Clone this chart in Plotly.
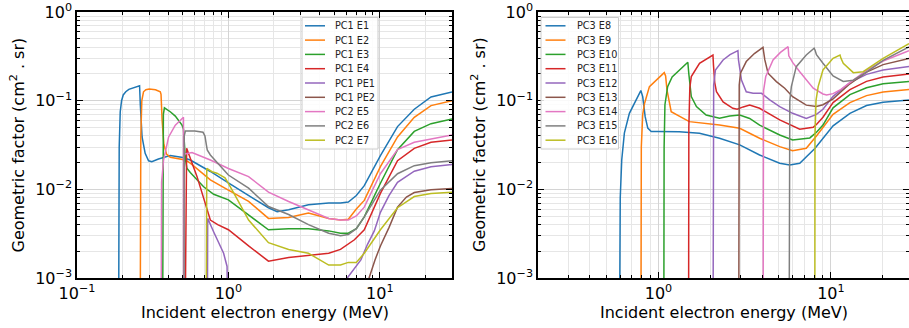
import math
import plotly.graph_objects as go

# ---------------- Left panel data (energy MeV, geometric factor cm^2 sr) -------------
pc1_e1_E = [0.188, 0.190, 0.193, 0.197, 0.202, 0.210, 0.220, 0.240, 0.259, 0.262, 0.269, 0.282, 0.297, 0.312, 0.345,
            0.413, 0.50, 0.56, 0.76, 1.0, 1.36, 1.84, 2.1, 2.5, 3.38, 4.6, 5.5, 6.2, 7.0, 7.9, 10.1, 13.1, 16.9, 21.8, 30.0]
pc1_e1_G = [1e-4, 0.03, 0.075, 0.10, 0.116, 0.126, 0.134, 0.140, 0.147, 0.09, 0.039, 0.0255, 0.021, 0.0205, 0.022,
            0.0240, 0.0228, 0.0214, 0.0159, 0.0118, 0.0086, 0.0062, 0.0056, 0.0059, 0.0067, 0.0070, 0.0070, 0.0072, 0.0085,
            0.011, 0.024, 0.051, 0.080, 0.110, 0.125]

pc1_e2_E = [0.261, 0.264, 0.268, 0.275, 0.285, 0.300, 0.330, 0.355, 0.359, 0.365, 0.375, 0.390, 0.413, 0.52, 0.56,
            0.76, 1.0, 1.36, 1.84, 2.5, 3.38, 4.6, 5.5, 6.2, 7.0, 7.9, 10.1, 13.1, 16.9, 21.8, 30.0]
pc1_e2_G = [1e-4, 0.04, 0.10, 0.126, 0.133, 0.135, 0.133, 0.126, 0.118, 0.06, 0.032, 0.025, 0.023, 0.0214, 0.0197,
            0.0128, 0.0098, 0.0073, 0.0047, 0.0048, 0.0054, 0.0047, 0.0045, 0.0046, 0.0060, 0.0075, 0.018, 0.039, 0.065,
            0.088, 0.100]

pc1_e3_E = [0.367, 0.369, 0.372, 0.378, 0.413, 0.446, 0.494, 0.505, 0.512, 0.52, 0.532, 0.56, 0.686, 0.80, 1.0, 1.36,
            1.84, 2.5, 3.38, 4.6, 5.5, 6.2, 7.0, 7.9, 10.1, 13.1, 16.9, 21.8, 30.0]
pc1_e3_G = [1e-4, 0.03, 0.07, 0.083, 0.075, 0.067, 0.053, 0.048, 0.032, 0.022, 0.0173, 0.0155, 0.0107, 0.0088, 0.0076,
            0.0052, 0.0035, 0.0036, 0.0036, 0.0034, 0.0032, 0.0032, 0.0036, 0.0049, 0.0117, 0.028, 0.045, 0.055, 0.062]

pc1_e4_E = [0.515, 0.53, 0.62, 0.72, 0.76, 0.85, 1.0, 1.36, 1.84, 2.5, 3.38, 4.6, 5.5, 6.2, 6.8, 7.9, 10.1, 13.1, 16.9,
            21.8, 30.0]
pc1_e4_G = [1e-4, 0.029, 0.014, 0.0059, 0.0045, 0.0040, 0.0035, 0.0023, 0.00155, 0.0017, 0.0018, 0.0019, 0.0021, 0.0024,
            0.0027, 0.0035, 0.009, 0.021, 0.029, 0.034, 0.036]

pc1_pe1_E = [0.725, 0.73, 0.80, 0.86, 0.93, 0.98, 1.0, None, 6.1, 7.5, 8.3, 9.2, 10.1, 11.5, 13.1, 16.9, 21.8, 30.0]
pc1_pe1_G = [1e-4, 0.0047, 0.0033, 0.0025, 0.0019, 0.00135, 1e-4, None, 0.001, 0.0016, 0.0024, 0.0034, 0.0055, 0.0085,
             0.012, 0.016, 0.018, 0.019]

pc1_pe2_E = [8.3, 8.5, 9.3, 10.1, 11.5, 13.1, 15.0, 16.9, 21.8, 30.0]
pc1_pe2_G = [1e-4, 0.001, 0.0016, 0.0023, 0.0037, 0.0063, 0.0082, 0.0092, 0.0099, 0.0102]

pc2_e5_E = [0.359, 0.362, 0.373, 0.403, 0.446, 0.48, 0.505, 0.507, None, 0.515, 0.575, 0.76, 1.0, 1.36, 1.84, 2.5,
            3.38, 4.6, 5.5, 6.2, 7.0, 7.9, 10.1, 13.1, 16.9, 21.8, 30.0]
pc2_e5_G = [1e-4, 0.012, 0.0214, 0.039, 0.053, 0.060, 0.065, 1e-4, None, 0.025, 0.026, 0.0214, 0.0172, 0.0139, 0.0093,
            0.0073, 0.0059, 0.0047, 0.0045, 0.0045, 0.0050, 0.0063, 0.015, 0.028, 0.034, 0.037, 0.041]

pc2_e6_E = [0.509, 0.511, 0.52, 0.60, 0.68, 0.70, 0.715, 0.725, 0.76, 1.0, 1.36, 1.84, 2.5, 3.38, 4.6, 5.5, 6.2, 7.0,
            7.9, 10.1, 13.1, 16.9, 21.8, 30.0]
pc2_e6_G = [1e-4, 0.04, 0.0455, 0.0455, 0.044, 0.040, 0.032, 0.0278, 0.0244, 0.0145, 0.0103, 0.0064, 0.0052, 0.0040,
            0.0032, 0.0030, 0.0031, 0.0036, 0.0049, 0.0098, 0.015, 0.0185, 0.020, 0.021]

pc2_e7_E = [0.711, 0.713, 0.72, 0.78, 0.84, 0.95, 1.0, 1.15, 1.36, 1.84, 2.5, 3.38, 4.6, 5.5, 6.2, 7.0, 7.9, 10.1, 13.1,
            16.9, 21.8, 30.0]
pc2_e7_G = [1e-4, 0.016, 0.0172, 0.0158, 0.0152, 0.0135, 0.0117, 0.0076, 0.0045, 0.0025, 0.0021, 0.0019, 0.0014, 0.0014,
            0.0015, 0.0015, 0.0019, 0.0035, 0.0062, 0.0083, 0.0090, 0.0093]

# ---------------- Right panel data -------------
pc3_e8_E = [0.593, 0.600, 0.612, 0.634, 0.678, 0.725, 0.76, 0.79, 0.81, 0.837, 0.867, 0.907, 0.99, 1.32, 1.73, 2.26,
            2.96, 3.86, 5.05, 5.77, 6.6, 8.1, 10.3, 12.9, 16.1, 20.1, 28.4]
pc3_e8_G = [1e-4, 0.008, 0.0214, 0.043, 0.072, 0.093, 0.11, 0.13, 0.111, 0.066, 0.049, 0.045, 0.045, 0.0447, 0.043,
            0.0377, 0.0317, 0.0244, 0.0197, 0.0188, 0.0197, 0.029, 0.052, 0.072, 0.088, 0.096, 0.102]

pc3_e9_E = [0.79, 0.795, 0.81, 0.83, 0.886, 0.99, 1.08, 1.10, 1.12, 1.185, 1.295, 1.42, 1.51, 2.26, 2.96, 3.86, 5.05,
            6.0, 7.2, 8.25, 10.3, 12.9, 16.1, 20.1, 28.4]
pc3_e9_G = [1e-4, 0.03, 0.07, 0.093, 0.144, 0.179, 0.207, 0.19, 0.132, 0.075, 0.069, 0.062, 0.058, 0.053, 0.0489,
            0.0377, 0.0303, 0.0273, 0.029, 0.040, 0.070, 0.095, 0.114, 0.125, 0.134]

pc3_e10_E = [1.073, 1.078, 1.09, 1.13, 1.2, 1.32, 1.48, 1.50, 1.55, 1.66, 1.89, 2.26, 2.59, 2.96, 3.38, 3.86, 5.05, 6.0,
             7.55, 8.25, 9.0, 10.3, 12.9, 16.1, 20.1, 28.4]
pc3_e10_G = [1e-4, 0.03, 0.09, 0.144, 0.185, 0.222, 0.271, 0.2, 0.111, 0.0857, 0.069, 0.0633, 0.067, 0.069, 0.063,
             0.053, 0.041, 0.036, 0.038, 0.044, 0.053, 0.083, 0.117, 0.14, 0.155, 0.165]

pc3_e11_E = [1.494, 1.50, 1.52, 1.55, 1.73, 2.07, 2.085, 2.12, 2.17, 2.37, 2.7, 2.86, 3.1, 3.38, 3.86, 5.05, 6.6, 7.9,
             8.25, 9.0, 10.3, 12.9, 16.1, 20.1, 28.4]
pc3_e11_G = [1e-4, 0.05, 0.14, 0.187, 0.264, 0.327, 0.25, 0.16, 0.126, 0.097, 0.082, 0.080, 0.085, 0.089, 0.082, 0.0606,
             0.0476, 0.050, 0.054, 0.065, 0.095, 0.133, 0.165, 0.185, 0.200]

pc3_e12_E = [2.07, 2.075, 2.09, 2.14, 2.37, 2.6, 2.89, 2.91, 3.03, 3.23, 3.54, 3.96, 4.42, 5.05, 6.0, 7.2, 8.25, 9.0,
             10.3, 12.9, 16.1, 20.1, 28.4]
pc3_e12_G = [1e-4, 0.05, 0.15, 0.222, 0.288, 0.33, 0.366, 0.29, 0.171, 0.126, 0.121, 0.121, 0.102, 0.0857, 0.072, 0.063,
             0.070, 0.080, 0.112, 0.160, 0.198, 0.222, 0.243]

pc3_e13_E = [2.92, 2.925, 2.94, 2.99, 3.23, 3.6, 4.04, 4.07, 4.14, 4.32, 4.83, 5.4, 6.0, 7.2, 8.25, 9.0, 10.3, 12.9,
             16.1, 20.1, 28.4]
pc3_e13_G = [1e-4, 0.05, 0.15, 0.204, 0.276, 0.34, 0.40, 0.36, 0.288, 0.204, 0.164, 0.138, 0.111, 0.089, 0.086, 0.090,
             0.105, 0.155, 0.21, 0.255, 0.30]

pc3_e14_E = [4.04, 4.045, 4.07, 4.19, 4.62, 5.1, 5.65, 5.7, 6.0, 6.6, 7.9, 9.0, 9.45, 10.3, 11.3, 12.9, 16.1, 20.1, 28.4]
pc3_e14_G = [1e-4, 0.05, 0.13, 0.187, 0.288, 0.35, 0.406, 0.32, 0.27, 0.212, 0.138, 0.119, 0.116, 0.120, 0.132, 0.160,
             0.22, 0.28, 0.365]

pc3_e15_E = [5.72, 5.73, 5.78, 5.9, 6.3, 7.2, 8.0, 8.1, 8.25, 9.0, 10.3, 11.8, 13.5, 16.1, 20.1, 28.4]
pc3_e15_G = [1e-4, 0.04, 0.10, 0.144, 0.242, 0.327, 0.39, 0.37, 0.33, 0.264, 0.19, 0.165, 0.170, 0.21, 0.285, 0.405]

pc3_e16_E = [8.07, 8.09, 8.2, 8.44, 9.0, 10.3, 11.3, 11.45, 11.8, 13.5, 15.4, 20.1, 28.4]
pc3_e16_G = [1e-4, 0.04, 0.10, 0.144, 0.222, 0.30, 0.327, 0.30, 0.264, 0.207, 0.212, 0.30, 0.44]

left_names = ["PC1 E1", "PC1 E2", "PC1 E3", "PC1 E4", "PC1 PE1", "PC1 PE2", "PC2 E5", "PC2 E6", "PC2 E7"]
left_data = [(pc1_e1_E, pc1_e1_G), (pc1_e2_E, pc1_e2_G), (pc1_e3_E, pc1_e3_G), (pc1_e4_E, pc1_e4_G),
             (pc1_pe1_E, pc1_pe1_G), (pc1_pe2_E, pc1_pe2_G), (pc2_e5_E, pc2_e5_G), (pc2_e6_E, pc2_e6_G),
             (pc2_e7_E, pc2_e7_G)]
right_names = ["PC3 E8", "PC3 E9", "PC3 E10", "PC3 E11", "PC3 E12", "PC3 E13", "PC3 E14", "PC3 E15", "PC3 E16"]
right_data = [(pc3_e8_E, pc3_e8_G), (pc3_e9_E, pc3_e9_G), (pc3_e10_E, pc3_e10_G), (pc3_e11_E, pc3_e11_G),
              (pc3_e12_E, pc3_e12_G), (pc3_e13_E, pc3_e13_G), (pc3_e14_E, pc3_e14_G), (pc3_e15_E, pc3_e15_G),
              (pc3_e16_E, pc3_e16_G)]

colors = ["#1f77b4", "#ff7f0e", "#2ca02c", "#d62728", "#9467bd", "#8c564b", "#e377c2", "#7f7f7f", "#bcbd22"]

W, H = 909, 328
FONT = "DejaVu Sans"

fig = go.Figure()
for (name, (e, g), c) in zip(left_names, left_data, colors):
    fig.add_trace(go.Scatter(x=e, y=g, mode="lines", name=name, line=dict(color=c, width=1.5),
                             xaxis="x", yaxis="y", showlegend=False, connectgaps=False))
for (name, (e, g), c) in zip(right_names, right_data, colors):
    fig.add_trace(go.Scatter(x=e, y=g, mode="lines", name=name, line=dict(color=c, width=1.5),
                             xaxis="x2", yaxis="y2", showlegend=False, connectgaps=False))


def px_x(p):
    return p / W


def px_y(p):
    return 1 - p / H


def minor_vals(d0, d1):
    return [m * 10.0 ** d for d in range(d0, d1) for m in range(2, 10)]


def sup(p):
    s = ("\u2212" + str(-p)) if p < 0 else str(p)
    return "10<sup>" + s + "</sup>"


common = dict(type="log", showline=True, linecolor="black", linewidth=1.5, mirror="allticks",
              ticks="inside", ticklen=6, tickwidth=1.2, tickcolor="black", automargin=False,
              showgrid=True, gridcolor="#d4d4d4", gridwidth=1, zeroline=False,
              tickfont=dict(family=FONT, size=16, color="black"),
              minor=dict(ticks="inside", ticklen=3, tickwidth=1, tickcolor="black",
                         showgrid=True, gridcolor="#e6e6e6", gridwidth=1))

y_dom = [px_y(278), px_y(12)]
yt = [-3, -2, -1, 0]

fig.update_layout(
    width=W, height=H, margin=dict(l=0, r=0, t=0, b=0, autoexpand=False),
    paper_bgcolor="white", plot_bgcolor="white",
    font=dict(family=FONT, color="black"),
    xaxis=dict(common, domain=[px_x(77), px_x(452)], range=[-1, math.log10(30)], anchor="y",
               tickmode="array", tickvals=[10.0 ** p for p in [-1, 0, 1]], ticktext=[sup(p) for p in [-1, 0, 1]],
               minor=dict(common["minor"], tickmode="array", tickvals=minor_vals(-1, 2))),
    yaxis=dict(common, domain=y_dom, range=[-3, 0], anchor="x",
               tickmode="array", tickvals=[10.0 ** p for p in yt], ticktext=[sup(p) for p in yt],
               minor=dict(common["minor"], tickmode="array", tickvals=minor_vals(-3, 0))),
    xaxis2=dict(common, domain=[px_x(538), 1.0], range=[math.log10(0.2), math.log10(28.4)], anchor="y2",
                tickmode="array", tickvals=[1.0, 10.0], ticktext=[sup(0), sup(1)],
                minor=dict(common["minor"], tickmode="array", tickvals=minor_vals(-1, 2))),
    yaxis2=dict(common, domain=y_dom, range=[-3, 0], anchor="x2",
                tickmode="array", tickvals=[10.0 ** p for p in yt], ticktext=[sup(p) for p in yt],
                minor=dict(common["minor"], tickmode="array", tickvals=minor_vals(-3, 0))),
)

annotations = []
shapes = []
# axis titles
for cx in [(77 + 452) / 2, (538 + 909) / 2]:
    annotations.append(dict(text="Incident electron energy (MeV)", x=px_x(cx), y=px_y(312), xref="paper",
                            yref="paper", showarrow=False, xanchor="center", yanchor="middle",
                            font=dict(family=FONT, size=16, color="black")))
for cx in [17.5, 478]:
    annotations.append(dict(text="Geometric factor (cm<sup>2</sup> . sr)", x=px_x(cx), y=px_y(145), xref="paper",
                            yref="paper", showarrow=False, xanchor="center", yanchor="middle", textangle=-90,
                            font=dict(family=FONT, size=16, color="black")))

# legends (drawn as boxes with sample lines and labels)
for names, bx0, bx1, lx0, lx1, tx in [(left_names, 302, 378, 305, 325, 333),
                                       (right_names, 541, 618.5, 545.5, 565.5, 574.5)]:
    shapes.append(dict(type="rect", xref="paper", yref="paper", x0=px_x(bx0), x1=px_x(bx1), y0=px_y(149),
                       y1=px_y(17.5), fillcolor="rgba(255,255,255,0.85)", line=dict(color="#cccccc", width=1),
                       layer="above"))
    for i, (nm, c) in enumerate(zip(names, colors)):
        ry = 25.8 + 14.3 * i
        shapes.append(dict(type="line", xref="paper", yref="paper", x0=px_x(lx0), x1=px_x(lx1), y0=px_y(ry),
                           y1=px_y(ry), line=dict(color=c, width=1.5), layer="above"))
        annotations.append(dict(text=nm, x=px_x(tx), y=px_y(ry), xref="paper", yref="paper", showarrow=False,
                                xanchor="left", yanchor="middle", font=dict(family=FONT, size=9.7, color="#222222")))

fig.update_layout(annotations=annotations, shapes=shapes)
fig.write_html("out.html", config={"displayModeBar": False},
               post_script="document.body.style.margin='0px';document.body.style.overflow='hidden';")
